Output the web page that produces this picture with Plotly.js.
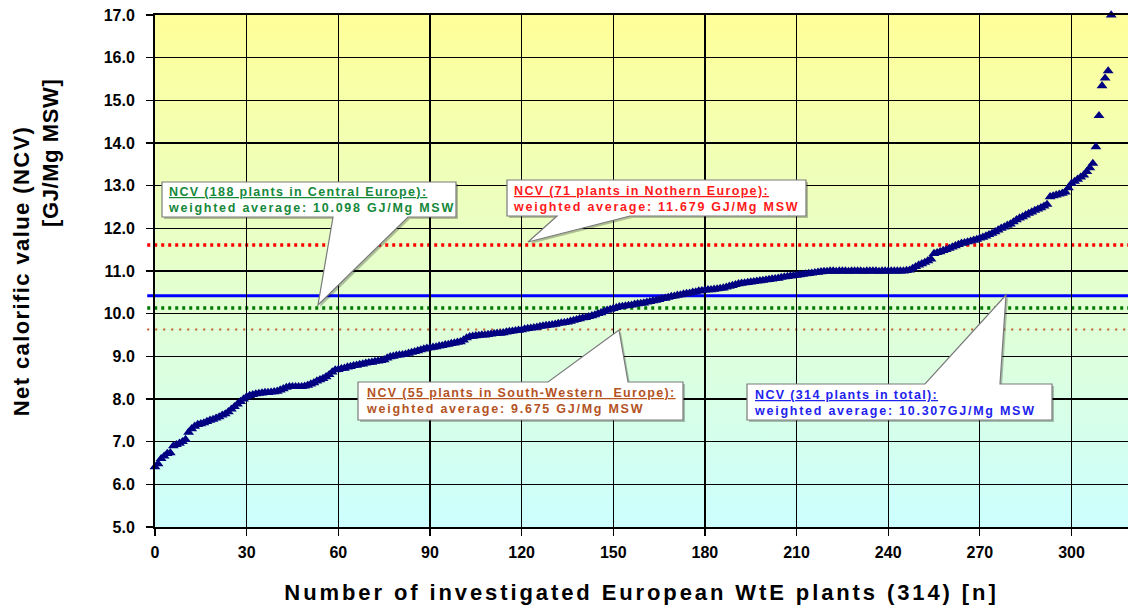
<!DOCTYPE html>
<html>
<head>
<meta charset="utf-8">
<script src="https://cdn.plot.ly/plotly-3.0.1.min.js"></script>
<style>html,body{margin:0;padding:0;background:#fff;}#chart{width:1128px;height:608px;}</style>
</head>
<body>
<div id="chart"></div>
<script>
// ---- Data ----
const ncvValues = [
  6.41, 6.48, 6.60, 6.66, 6.72, 6.74, 6.90, 6.93, 6.96, 7.00,
  7.05, 7.22, 7.30, 7.36, 7.40, 7.42, 7.44, 7.47, 7.50, 7.52,
  7.55, 7.58, 7.62, 7.65, 7.70, 7.76, 7.82, 7.88, 7.94, 8.00,
  8.05, 8.08, 8.10, 8.12, 8.13, 8.14, 8.15, 8.15, 8.16, 8.17,
  8.18, 8.21, 8.24, 8.27, 8.29, 8.29, 8.29, 8.29, 8.29, 8.30,
  8.32, 8.35, 8.38, 8.42, 8.45, 8.48, 8.52, 8.57, 8.63, 8.68,
  8.69, 8.71, 8.72, 8.75, 8.76, 8.78, 8.79, 8.81, 8.82, 8.84,
  8.85, 8.86, 8.88, 8.89, 8.90, 8.92, 8.96, 8.99, 9.00, 9.02,
  9.03, 9.04, 9.05, 9.07, 9.09, 9.11, 9.13, 9.15, 9.17, 9.19,
  9.20, 9.21, 9.22, 9.24, 9.25, 9.27, 9.28, 9.30, 9.31, 9.33,
  9.34, 9.38, 9.43, 9.46, 9.47, 9.48, 9.49, 9.50, 9.50, 9.51,
  9.52, 9.53, 9.54, 9.54, 9.55, 9.57, 9.58, 9.59, 9.60, 9.61,
  9.62, 9.64, 9.65, 9.66, 9.67, 9.68, 9.70, 9.71, 9.72, 9.73,
  9.74, 9.75, 9.77, 9.78, 9.79, 9.80, 9.82, 9.84, 9.86, 9.88,
  9.90, 9.91, 9.93, 9.95, 9.97, 10.00, 10.02, 10.05, 10.08, 10.10,
  10.12, 10.14, 10.16, 10.17, 10.18, 10.19, 10.20, 10.22, 10.23, 10.24,
  10.25, 10.27, 10.28, 10.30, 10.31, 10.33, 10.35, 10.36, 10.38, 10.40,
  10.41, 10.43, 10.44, 10.46, 10.47, 10.48, 10.50, 10.51, 10.53, 10.54,
  10.55, 10.56, 10.56, 10.57, 10.58, 10.59, 10.60, 10.62, 10.64, 10.66,
  10.68, 10.70, 10.71, 10.72, 10.73, 10.74, 10.75, 10.76, 10.77, 10.78,
  10.79, 10.80, 10.81, 10.82, 10.83, 10.85, 10.86, 10.87, 10.88, 10.89,
  10.90, 10.91, 10.92, 10.93, 10.94, 10.95, 10.96, 10.97, 10.98, 10.99,
  10.99, 11.00, 11.00, 10.99, 11.00, 11.00, 11.00, 10.99, 11.00, 11.00,
  11.00, 11.00, 10.99, 11.00, 11.00, 11.00, 11.00, 10.99, 11.00, 11.00,
  11.00, 11.00, 11.00, 11.00, 11.00, 11.00, 11.01, 11.02, 11.06, 11.10,
  11.14, 11.17, 11.20, 11.24, 11.28, 11.41, 11.43, 11.45, 11.48, 11.50,
  11.53, 11.56, 11.59, 11.62, 11.65, 11.66, 11.68, 11.70, 11.72, 11.74,
  11.77, 11.79, 11.82, 11.85, 11.88, 11.92, 11.96, 12.00, 12.03, 12.07,
  12.10, 12.15, 12.20, 12.24, 12.27, 12.31, 12.35, 12.38, 12.42, 12.45,
  12.48, 12.52, 12.56, 12.74, 12.76, 12.78, 12.80, 12.82, 12.85, 12.95,
  13.05, 13.10, 13.15, 13.20, 13.25, 13.33, 13.42, 13.52, 13.91, 14.64,
  15.34, 15.52, 15.69, 17.00
];
const plantRank = ncvValues.map((_, i) => i);

// average lines (position as drawn in the picture)
const avgGroups = ['Central Europe', 'Northern Europe', 'South-Western Europe', 'Total'];
const avgDrawn  = [10.13, 11.61, 9.63, 10.42];

// callout texts
const calloutTitles = [
  'NCV (188 plants in Central Europe):',
  'NCV (71 plants in Nothern Europe):',
  'NCV (55 plants in South-Western  Europe):',
  'NCV (314 plants in total):'
];
const calloutValues = [
  'weighted average: 10.098 GJ/Mg MSW',
  'weighted average: 11.679 GJ/Mg MSW',
  'weighted average: 9.675 GJ/Mg MSW',
  'weighted average: 10.307GJ/Mg MSW'
];

const xTickVals = [0, 30, 60, 90, 120, 150, 180, 210, 240, 270, 300];

// ---- Layout helpers ----
const W = 1128, H = 608, ML = 155, MR = 0, MT = 15, MB = 81;
const PW = W - ML - MR, PH = H - MT - MB;
const fx = x => (x - ML) / PW;
const fy = y => (H - MB - y) / PH;
const pathOf = pts => 'M' + pts.map(p => fx(p[0]).toFixed(5) + ',' + fy(p[1]).toFixed(5)).join(' L') + ' Z';

const lineColors = ['#007a00', '#ff0000', '#c0582a', '#0000ff'];
const lineDash   = ['3px,4px', '3px,4px', '2px,6px', 'solid'];
const lineWidth  = [3.5, 3.5, 2, 3];
const textColors = ['#15883a', '#ff1a1a', '#b4531f', '#2222ee'];

// callout geometry (pixels)
const callouts = [
  {pts: [[162,182],[456,182],[456,217],[408,217],[318,305],[333,217],[162,217]], tx: 166, ty: 200},
  {pts: [[507,180],[806,180],[806,216],[630,216],[528,242],[557,216],[507,216]], tx: 511, ty: 198.5},
  {pts: [[358,382],[548,382],[619,330],[628,382],[683,382],[683,420],[358,420]], tx: 364, ty: 401},
  {pts: [[747,384],[925,384],[1006,295],[1000,384],[1052,384],[1052,420],[747,420]], tx: 752, ty: 402.5}
];

const shapes = [];
avgDrawn.forEach((v, i) => {
  shapes.push({type: 'line', xref: 'paper', yref: 'y', x0: -0.008, x1: 1, y0: v, y1: v,
    layer: 'between', line: {color: lineColors[i], width: lineWidth[i], dash: lineDash[i]}});
});
callouts.forEach(c => {
  shapes.push({type: 'path', xref: 'paper', yref: 'paper', layer: 'above',
    path: pathOf(c.pts.map(p => [p[0] + 2, p[1] + 2])),
    fillcolor: 'rgba(0,0,0,0.25)', line: {width: 0}});
  shapes.push({type: 'path', xref: 'paper', yref: 'paper', layer: 'above',
    path: pathOf(c.pts), fillcolor: '#ffffff', line: {color: '#7a7a7a', width: 1.2}});
});

const annotations = callouts.map((c, i) => ({
  xref: 'paper', yref: 'paper', x: fx(c.tx), y: fy(c.ty), xanchor: 'left', yanchor: 'middle',
  align: 'left', showarrow: false,
  text: '<span style="letter-spacing:1.35px"><u>' + calloutTitles[i] + '</u></span><br>' +
        '<span style="letter-spacing:1.75px">' + calloutValues[i] + '</span>',
  font: {family: 'Liberation Sans, Arial, sans-serif', size: 12.5, weight: 'bold', color: textColors[i]}
}));
annotations.push({
  xref: 'paper', yref: 'paper', x: fx(50), y: fy(153), xanchor: 'center', yanchor: 'middle',
  textangle: -90, showarrow: false,
  text: '<span style="letter-spacing:0.6px">[GJ/Mg MSW]</span>',
  font: {family: 'Liberation Sans, Arial, sans-serif', size: 22, weight: 'bold', color: '#000'}
});

const bgSvg = "<svg xmlns='http://www.w3.org/2000/svg' width='10' height='100' preserveAspectRatio='none'>" +
  "<defs><linearGradient id='g' x1='0' y1='0' x2='0' y2='1'>" +
  "<stop offset='0' stop-color='#FFFF99'/><stop offset='1' stop-color='#CCFFFF'/>" +
  "</linearGradient></defs><rect width='10' height='100' fill='url(#g)'/></svg>";
const bgUri = 'data:image/svg+xml;charset=utf-8,' + encodeURIComponent(bgSvg);

const axisFont = {family: 'Liberation Sans, Arial, sans-serif', size: 16, weight: 'bold', color: '#000'};

const trace = {
  type: 'scatter', mode: 'markers', x: plantRank, y: ncvValues,
  marker: {symbol: 'triangle-up', size: 9.5, color: '#000080', line: {width: 0}},
  cliponaxis: false, hoverinfo: 'x+y', showlegend: false
};

const layout = {
  width: W, height: H,
  margin: {l: ML, r: MR, t: MT, b: MB, pad: 0},
  paper_bgcolor: '#ffffff', plot_bgcolor: 'rgba(0,0,0,0)',
  showlegend: false,
  images: [{source: bgUri, xref: 'paper', yref: 'paper', x: 0, y: 1, sizex: 1, sizey: 1,
    sizing: 'stretch', xanchor: 'left', yanchor: 'top', layer: 'below'}],
  xaxis: {
    range: [0, 318.5], tickvals: xTickVals, ticktext: xTickVals.map(String),
    showgrid: true, gridcolor: '#000', gridwidth: 1.3, zeroline: false,
    showline: true, linecolor: '#000', linewidth: 2, mirror: true,
    ticks: 'outside', ticklen: 7, tickwidth: 1.3, tickcolor: '#000',
    tickfont: axisFont, ticklabelstandoff: 3,
    title: {text: '<span style="letter-spacing:2.9px">Number of investigated European WtE plants (314) [n]</span>',
      font: {family: 'Liberation Sans, Arial, sans-serif', size: 22, weight: 'bold', color: '#000'}, standoff: 24}
  },
  yaxis: {
    range: [5, 17], dtick: 1, tick0: 5, tickformat: '.1f',
    showgrid: true, gridcolor: '#000', gridwidth: 1.3, zeroline: false,
    showline: true, linecolor: '#000', linewidth: 2, mirror: false,
    ticks: 'outside', ticklen: 7, tickwidth: 1.3, tickcolor: '#000',
    tickfont: axisFont, ticklabelstandoff: 8,
    title: {text: '<span style="letter-spacing:1.4px">Net calorific value (NCV)</span>',
      font: {family: 'Liberation Sans, Arial, sans-serif', size: 22, weight: 'bold', color: '#000'}, standoff: 68}
  },
  shapes: shapes,
  annotations: annotations
};

Plotly.newPlot('chart', [trace], layout, {displayModeBar: false, staticPlot: true});
</script>
</body>
</html>
